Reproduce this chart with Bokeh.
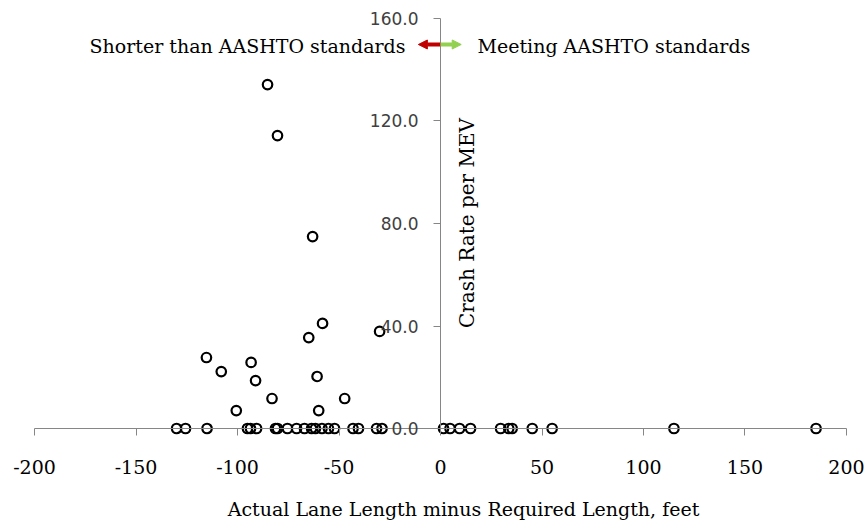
from math import pi
from bokeh.plotting import figure
from bokeh.models import (LinearAxis, FixedTicker, Range1d, Label, Arrow,
                          NormalHead, ColumnDataSource, PrintfTickFormatter)
from bokeh.embed import file_html
from bokeh.resources import INLINE

# ---- data ----
lane_diff = [-130.0, -125.6, -115.0, -95.1, -93.6, -90.6, -81.3, -80.3, -75.4, -70.9,
             -67.0, -63.5, -61.6, -58.4, -55.2, -52.2, -43.1, -40.4, -31.5, -28.8,
             1.5, 4.7, 9.4, 14.8, 29.6, 33.6, 35.3, 45.2, 55.0, 115.0, 185.0,
             -85.2, -80.3, -63.0, -58.1, -64.9, -30.0, -115.3, -108.0, -93.3,
             -91.1, -60.8, -83.0, -47.2, -100.6, -60.0]
crash_rate = [0.0] * 31 + [134.2, 114.3, 74.9, 41.0, 35.5, 37.9, 27.7, 22.2, 25.8,
                           18.7, 20.3, 11.7, 11.7, 7.0, 7.0]

x_ticks = [-200, -150, -100, -50, 0, 50, 100, 150, 200]
y_ticks = [0, 40, 80, 120, 160]
x_title = "Actual Lane Length minus Required Length, feet"
y_title = "Crash Rate per MEV"
left_note = "Shorter than AASHTO standards"
right_note = "Meeting AASHTO standards"

SERIF = "DejaVu Serif"

# frame covers the whole canvas so that the axes drawn inside it are not clipped
p = figure(width=865, height=523,
           x_range=Range1d(-216.75, 209.36), y_range=Range1d(-37.07, 167.02),
           output_backend="svg", toolbar_location=None,
           x_axis_location=None, y_axis_location=None,
           min_border_left=0, min_border_right=0,
           min_border_top=0, min_border_bottom=0)
p.outline_line_color = None
p.grid.visible = False
p.background_fill_color = "white"
p.border_fill_color = "white"

xaxis = LinearAxis(fixed_location=0, bounds=(-200, 200),
                   ticker=FixedTicker(ticks=x_ticks),
                   formatter=PrintfTickFormatter(format="%d"))
xaxis.axis_line_color = "#868686"
xaxis.major_tick_line_color = "#868686"
xaxis.major_tick_out = 7
xaxis.major_tick_in = 0
xaxis.minor_tick_line_color = None
xaxis.major_label_standoff = 24
xaxis.major_label_text_font = SERIF
xaxis.major_label_text_font_size = "19px"
xaxis.major_label_text_color = "black"
p.add_layout(xaxis, "below")

yaxis = LinearAxis(fixed_location=0, bounds=(0, 160),
                   ticker=FixedTicker(ticks=y_ticks),
                   formatter=PrintfTickFormatter(format="%.1f"))
yaxis.axis_line_color = "#868686"
yaxis.major_tick_line_color = "#868686"
yaxis.major_tick_out = 7
yaxis.major_tick_in = 0
yaxis.minor_tick_line_color = None
yaxis.major_label_standoff = 15
yaxis.major_label_text_font = "DejaVu Sans"
yaxis.major_label_text_font_size = "17px"
yaxis.major_label_text_color = "#404040"
p.add_layout(yaxis, "left")

src = ColumnDataSource(data=dict(x=lane_diff, y=crash_rate))
p.scatter(x="x", y="y", source=src, marker="circle", size=9.5,
          fill_color=None, line_color="black", line_width=2.2)

# horizontal axis title (slightly right of centre, as in the reference)
p.add_layout(Label(x=0, y=-31.4, x_offset=23, text=x_title,
                   text_align="center", text_baseline="middle",
                   text_font=SERIF, text_font_size="19px", text_color="black"))

# vertical axis title, to the right of the axis
p.add_layout(Label(x=0, y=80.2, x_offset=26, text=y_title, angle=pi / 2,
                   text_align="center", text_baseline="middle",
                   text_font=SERIF, text_font_size="20px", text_color="black"))

# annotations with arrows
p.add_layout(Label(x=0, y=149.3, x_offset=-35, text=left_note,
                   text_align="right", text_baseline="middle",
                   text_font=SERIF, text_font_size="19px", text_color="black"))
p.add_layout(Label(x=0, y=149.3, x_offset=37, text=right_note,
                   text_align="left", text_baseline="middle",
                   text_font=SERIF, text_font_size="19px", text_color="black"))

red = "#C00000"
green = "#92D050"
p.add_layout(Arrow(x_start=0, y_start=149.85, x_end=-10.9, y_end=149.85,
                   line_color=red, line_width=4,
                   end=NormalHead(size=9, fill_color=red, line_color=red, line_width=1)))
p.add_layout(Arrow(x_start=0, y_start=149.85, x_end=10.2, y_end=149.85,
                   line_color=green, line_width=4,
                   end=NormalHead(size=9, fill_color=green, line_color=green, line_width=1)))

open("out.html", "w").write(file_html(p, INLINE))
